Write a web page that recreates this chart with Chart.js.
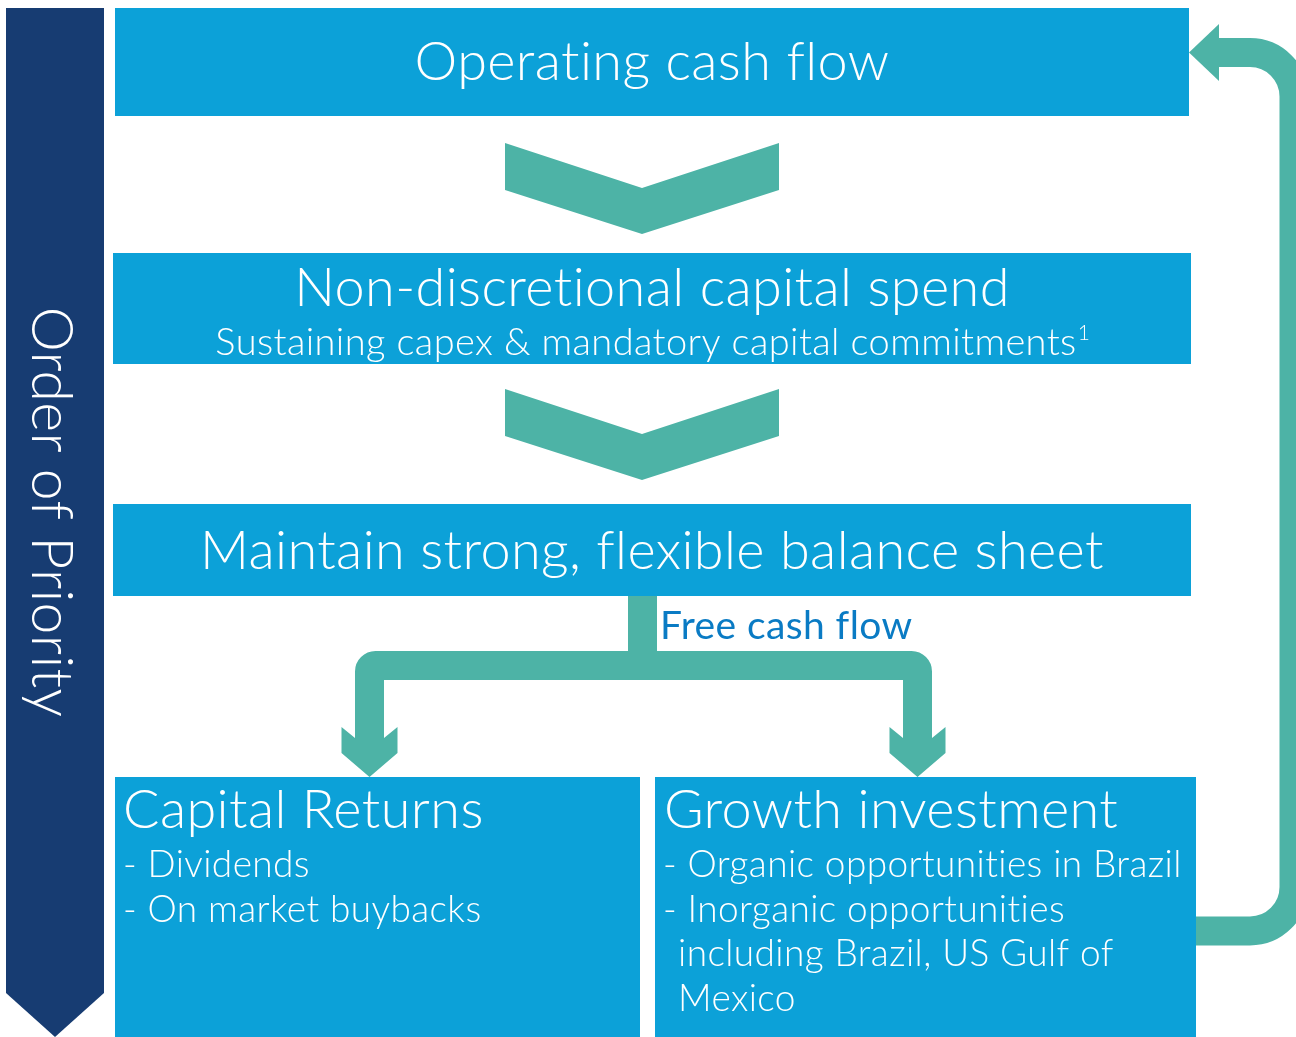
<!DOCTYPE html>
<html>
<head>
<meta charset="utf-8">
<script src="https://cdn.jsdelivr.net/npm/chart.js@4/dist/chart.umd.min.js"></script>
<style>
  html, body { margin: 0; padding: 0; background: #fff; }
  #wrap { width: 1296px; height: 1037px; position: relative; }
</style>
</head>
<body>
<div id="wrap"><canvas id="flowChart"></canvas></div>
<script>
// diagram text
const stepLabels = ['Operating cash flow', 'Non-discretional capital spend', 'Maintain strong, flexible balance sheet'];
const stepNote = 'Sustaining capex & mandatory capital commitments';
const noteMark = '1';
const splitLabel = 'Free cash flow';
const outcomeTitles = ['Capital Returns', 'Growth investment'];
const capitalItems = ['- Dividends', '- On market buybacks'];
const growthItems = ['- Organic opportunities in Brazil', '- Inorganic opportunities', 'including Brazil, US Gulf of', 'Mexico'];
const sideLabel = 'Order of Priority';

// box corners in diagram units (x 0..1296, y 0..1037 from top)
const boxLeft   = [115, 113, 113, 115, 655];
const boxRight  = [1189, 1191, 1191, 640, 1196];
const boxTop    = [8, 253, 504, 777, 777];
const boxBottom = [116, 364, 596, 1037, 1037];

// chevrons between steps: top of outer corners
const chevronTop = [143, 389];

const BOX_BLUE = '#0ca1d8';
const TEAL = '#4db3a6';
const NAVY = '#173c72';
const FONT = "'Lato', 'Open Sans', sans-serif";

const diagramPlugin = {
  id: 'diagram',
  afterDraw(chart) {
    const ctx = chart.ctx;
    const sx = chart.scales.x, sy = chart.scales.y;
    const X = v => sx.getPixelForValue(v);
    const Y = v => sy.getPixelForValue(v);

    function poly(pts, color) {
      ctx.beginPath();
      pts.forEach((p, i) => i ? ctx.lineTo(X(p[0]), Y(p[1])) : ctx.moveTo(X(p[0]), Y(p[1])));
      ctx.closePath();
      ctx.fillStyle = color;
      ctx.fill();
    }
    function text(str, x, y, size, align, color, weight) {
      ctx.font = (weight || 300) + ' ' + size + 'px ' + FONT;
      ctx.fillStyle = color || '#fff';
      ctx.textAlign = align || 'left';
      ctx.textBaseline = 'middle';
      ctx.fillText(str, X(x), Y(y));
    }

    ctx.save();
    ctx.letterSpacing = '0.4px'; // also stops the Lato "ti" ligature

    // left priority arrow
    poly([[6, 8], [104, 8], [104, 993], [55, 1037], [6, 993]], NAVY);
    ctx.save();
    ctx.translate(X(50), Y(512));
    ctx.rotate(Math.PI / 2);
    ctx.font = '300 57px ' + FONT;
    ctx.fillStyle = '#fff';
    ctx.textAlign = 'center';
    ctx.textBaseline = 'middle';
    ctx.fillText(sideLabel, 0, 0);
    ctx.restore();

    // boxes
    for (let i = 0; i < boxLeft.length; i++) {
      ctx.fillStyle = BOX_BLUE;
      ctx.fillRect(X(boxLeft[i]), Y(boxTop[i]), X(boxRight[i]) - X(boxLeft[i]), Y(boxBottom[i]) - Y(boxTop[i]));
    }

    // chevrons
    chevronTop.forEach(t => {
      poly([[505, t], [642, t + 45], [779, t], [779, t + 47], [642, t + 91], [505, t + 47]], TEAL);
    });

    // free cash flow split
    ctx.strokeStyle = TEAL;
    ctx.lineWidth = 29;
    ctx.lineCap = 'butt';
    ctx.lineJoin = 'miter';
    ctx.beginPath();
    ctx.moveTo(X(642.5), Y(596));
    ctx.lineTo(X(642.5), Y(666));
    ctx.stroke();
    ctx.beginPath();
    ctx.moveTo(X(369.5), Y(740));
    ctx.arcTo(X(369.5), Y(665.5), X(917.5), Y(665.5), 6);
    ctx.arcTo(X(917.5), Y(665.5), X(917.5), Y(740), 6);
    ctx.lineTo(X(917.5), Y(740));
    ctx.stroke();
    [369.5, 917.5].forEach(cx => {
      poly([[cx - 14.5, 738], [cx - 28, 727], [cx - 28, 753], [cx, 777], [cx + 28, 753], [cx + 28, 727], [cx + 14.5, 738]], TEAL);
    });

    // loop back arrow
    ctx.beginPath();
    ctx.moveTo(X(1196), Y(931));
    ctx.arcTo(X(1294), Y(931), X(1294), Y(52.5), 44);
    ctx.arcTo(X(1294), Y(52.5), X(1218), Y(52.5), 44);
    ctx.lineTo(X(1217), Y(52.5));
    ctx.stroke();
    poly([[1219, 24], [1219, 81], [1189, 52.5]], TEAL);

    // texts
    text(stepLabels[0], 652, 63, 54, 'center');
    text(stepLabels[1], 652, 289, 54, 'center');
    text(stepNote, 646, 343, 38, 'center');
    ctx.font = '300 38px ' + FONT;
    const nw = ctx.measureText(stepNote).width;
    text(noteMark, 646 + nw / 2 + 1, 333, 21, 'left');
    text(stepLabels[2], 652, 552, 54, 'center');
    text(splitLabel, 660, 626, 39, 'left', '#0a7bc4', 400);

    text(outcomeTitles[0], 123, 811, 54, 'left');
    capitalItems.forEach((s, i) => text(s, 123, 865 + i * 45, 37, 'left'));
    text(outcomeTitles[1], 664, 811, 54, 'left');
    growthItems.forEach((s, i) => text(s, i < 2 ? 663 : 678, 865 + i * 44.7, 37, 'left'));

    ctx.restore();
  }
};

new Chart(document.getElementById('flowChart'), {
  type: 'scatter',
  data: {
    datasets: [{
      data: boxLeft.map((x, i) => ({ x: x, y: boxTop[i] })),
      pointRadius: 0,
      showLine: false
    }]
  },
  options: {
    responsive: true,
    maintainAspectRatio: false,
    animation: false,
    layout: { padding: 0 },
    plugins: { legend: { display: false }, tooltip: { enabled: false } },
    scales: {
      x: { type: 'linear', min: 0, max: 1296, display: false },
      y: { type: 'linear', min: 0, max: 1037, reverse: true, display: false }
    }
  },
  plugins: [diagramPlugin]
});
</script>
</body>
</html>
